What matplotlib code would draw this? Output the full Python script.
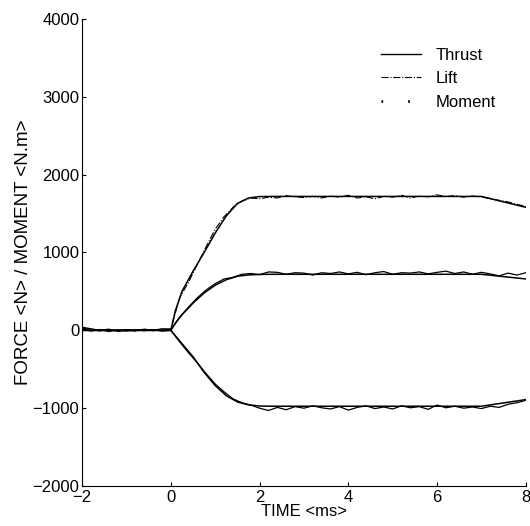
import numpy as np
from matplotlib import pyplot as plt
from matplotlib.lines import Line2D

plt.rcParams['font.family'] = ['Liberation Sans', 'DejaVu Sans']

# smooth fitted curves
t_fit = [-2, 0, 0.1, 0.25, 0.5, 0.75, 1.0, 1.25, 1.5, 1.75, 2.0, 2.25, 7.0, 8.0]
thrust_fit = [0, 0, 250, 500, 760, 1000, 1250, 1470, 1630, 1700, 1718, 1720, 1720, 1580]
lift_fit = [0, 0, 90, 200, 350, 480, 580, 650, 695, 712, 718, 720, 720, 660]
moment_fit = [0, 0, -70, -170, -340, -540, -710, -840, -920, -958, -972, -975, -975, -890]

# measured signals, every 0.2 ms from -2 to 8
t_meas = np.arange(51) * 0.2 - 2.0
thrust_meas = [30, 10, -10, 5, -15, 0, -10, 10, -5, 15, 20, 420, 620, 850, 1080, 1300,
               1460, 1580, 1660, 1700, 1690, 1710, 1700, 1730, 1715, 1705, 1720, 1700,
               1725, 1710, 1735, 1700, 1715, 1690, 1720, 1710, 1735, 1700, 1725, 1715,
               1740, 1720, 1730, 1710, 1725, 1715, 1690, 1670, 1650, 1620, 1590]
lift_meas = [40, 20, 0, 15, -10, 10, -5, 15, 0, 20, 10, 170, 300, 420, 520, 600, 660,
             680, 720, 730, 715, 750, 745, 720, 740, 735, 710, 740, 730, 750, 725, 745,
             715, 740, 755, 720, 740, 735, 750, 725, 745, 760, 730, 750, 720, 745, 725,
             700, 735, 710, 740]
moment_meas = [20, -10, 10, -15, 5, -10, 10, -5, 10, -10, 0, -150, -290, -420, -560,
               -690, -790, -880, -930, -960, -1000, -1030, -990, -1020, -980, -1000,
               -970, -995, -1010, -980, -1025, -990, -970, -1005, -985, -1010, -970,
               -995, -980, -1015, -960, -995, -975, -1000, -985, -1005, -975, -990,
               -950, -930, -900]

fig = plt.figure(figsize=(5.3, 5.26), dpi=100)
ax = fig.add_axes([0.155, 0.076, 0.837, 0.888])

ax.plot(t_fit, thrust_fit, color='black', lw=1.1)
ax.plot(t_fit, lift_fit, color='black', lw=1.1)
ax.plot(t_fit, moment_fit, color='black', lw=1.1)
ax.plot(t_meas, thrust_meas, color='black', lw=0.8, ls='-.')
ax.plot(t_meas, lift_meas, color='black', lw=0.9)
ax.plot(t_meas, moment_meas, color='black', lw=0.9)

ax.set_xlim(-2, 8)
ax.set_ylim(-2000, 4000)
ax.set_xticks([-2, 0, 2, 4, 6, 8])
ax.set_yticks([-2000, -1000, 0, 1000, 2000, 3000, 4000])
ax.tick_params(direction='in', length=3, labelsize=12, pad=2)
ax.tick_params(axis='x', pad=3)
ax.spines['top'].set_visible(False)
ax.spines['right'].set_visible(False)
ax.set_xlabel('TIME <ms>', fontsize=12, labelpad=-1)
ax.set_ylabel('FORCE <N> / MOMENT <N.m>', fontsize=13.5, labelpad=0)

handles = [Line2D([], [], color='black', lw=1.0),
           Line2D([], [], color='black', lw=0.8, ls='-.'),
           Line2D([], [], color='black', lw=2, ls=(0, (0.6, 9)))]
ax.legend(handles, ['Thrust', 'Lift', 'Moment'], loc='upper left',
          bbox_to_anchor=(0.64, 0.97), frameon=False, fontsize=12,
          handlelength=2.4, handletextpad=0.9, labelspacing=0.5)

fig.savefig('out.png')
